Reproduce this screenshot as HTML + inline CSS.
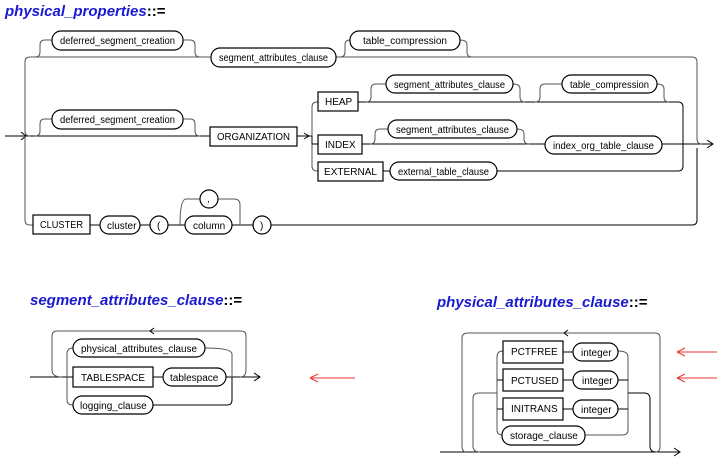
<!DOCTYPE html>
<html><head><meta charset="utf-8"><style>
html,body{margin:0;padding:0;background:#fff;}
svg{display:block;}
text{font-family:"Liberation Sans",sans-serif;font-size:10px;fill:#000;}
.t{font-family:"Liberation Sans",sans-serif;font-size:15px;font-weight:bold;font-style:italic;fill:#1a1ad0;}
.l{fill:none;stroke:#000;stroke-width:1;}
.g{fill:none;stroke:#555;stroke-width:1;}
.b{fill:#fff;stroke:#000;stroke-width:1.2;}
.r{fill:none;stroke:#e33;stroke-width:1;}
</style></head><body>
<svg width="719" height="460" viewBox="0 0 719 460">
<text class="t" x="5" y="16">physical_properties<tspan style="font-style:normal;fill:#000">::=</tspan></text>

<!-- main structure -->
<path class="l" d="M5 136 H210 M297 136 H312 M683 144 H713"/>
<path class="l" d="M707 140 L713 144 L707 148 M21 132 L26 136 L21 140 M304 133 L309 136 L304 139"/>
<path class="g" d="M30 136 Q25 136 25 131 V62 Q25 57 30 57 H692 Q697 57 697 62 V139 Q697 144 702 144"/>
<path class="g" d="M25 136 V220 Q25 225 30 225 H33"/>
<path class="l" d="M90 225 H100 M140 225 H150 M168 225 H185 M232 225 H253 M271 225 H692 Q697 225 697 220 V148"/>

<!-- row1 bypasses -->
<path class="g" d="M35 57 Q40 57 40 52 V45 Q40 40 45 40 H52 M183 40 H190 Q195 40 195 45 V52 Q195 57 200 57"/>
<path class="g" d="M340 57 Q345 57 345 52 V45 Q345 40 350 40 M460 40 Q467 40 467 45 V52 Q467 57 472 57"/>
<rect class="b" x="52" y="31" width="131" height="19" rx="9"/><text x="60" y="44" textLength="115" lengthAdjust="spacingAndGlyphs">deferred_segment_creation</text>
<rect class="b" x="211" y="48" width="125" height="19" rx="9"/><text x="219" y="61" textLength="109" lengthAdjust="spacingAndGlyphs">segment_attributes_clause</text>
<rect class="b" x="350" y="31" width="110" height="19" rx="9"/><text x="363" y="44" textLength="84" lengthAdjust="spacingAndGlyphs">table_compression</text>

<!-- row2 -->
<path class="g" d="M35 136 Q40 136 40 131 V124 Q40 119 45 119 H52 M183 119 H190 Q195 119 195 124 V131 Q195 136 200 136"/>
<rect class="b" x="52" y="110" width="131" height="19" rx="9"/><text x="60" y="123" textLength="115" lengthAdjust="spacingAndGlyphs">deferred_segment_creation</text>
<rect class="b" x="210" y="127" width="87" height="19"/><text x="217" y="140" textLength="73" lengthAdjust="spacingAndGlyphs">ORGANIZATION</text>
<path class="g" d="M318 102 H317 Q312 102 312 107 V166 Q312 171 317 171 H318"/>
<path class="l" d="M312 136 V144 H318"/>
<rect class="b" x="318" y="92" width="40" height="19"/><text x="325" y="105">HEAP</text>
<rect class="b" x="318" y="135" width="44" height="19"/><text x="325" y="148">INDEX</text>
<rect class="b" x="318" y="162" width="65" height="19"/><text x="324" y="175" textLength="53" lengthAdjust="spacingAndGlyphs">EXTERNAL</text>
<path class="l" d="M358 102 H678 Q683 102 683 107 V166 Q683 171 678 171 H497"/>
<path class="l" d="M362 144 H545 M662 144 H683"/>
<path class="l" d="M383 171 H390"/>
<path class="g" d="M366 102 Q371 102 371 97 V89 Q371 84 376 84 H386 M513 84 Q520 84 520 89 V97 Q520 102 525 102"/>
<path class="g" d="M535 102 Q540 102 540 97 V89 Q540 84 545 84 H562 M657 84 Q664 84 664 89 V97 Q664 102 669 102"/>
<rect class="b" x="386" y="75" width="127" height="18" rx="9"/><text x="394" y="88" textLength="111" lengthAdjust="spacingAndGlyphs">segment_attributes_clause</text>
<rect class="b" x="562" y="75" width="95" height="18" rx="9"/><text x="570" y="88" textLength="79" lengthAdjust="spacingAndGlyphs">table_compression</text>
<path class="g" d="M370 144 Q375 144 375 139 V134 Q375 129 380 129 H388 M517 129 Q524 129 524 134 V139 Q524 144 529 144"/>
<rect class="b" x="388" y="120" width="129" height="18" rx="9"/><text x="396" y="133" textLength="113" lengthAdjust="spacingAndGlyphs">segment_attributes_clause</text>
<rect class="b" x="545" y="136" width="117" height="18" rx="9"/><text x="553" y="149" textLength="101" lengthAdjust="spacingAndGlyphs">index_org_table_clause</text>
<rect class="b" x="390" y="162" width="107" height="18" rx="9"/><text x="398" y="175" textLength="91" lengthAdjust="spacingAndGlyphs">external_table_clause</text>

<!-- row3 -->
<rect class="b" x="33" y="215" width="57" height="19"/><text x="40" y="228" textLength="43" lengthAdjust="spacingAndGlyphs">CLUSTER</text>
<rect class="b" x="100" y="216" width="40" height="18" rx="9"/><text x="107" y="229">cluster</text>
<rect class="b" x="150" y="216" width="18" height="18" rx="9"/><text x="157" y="229">(</text>
<path class="g" d="M180 225 Q180 199 186 199 H200 M218 199 H234 Q240 199 240 205 V225"/>
<rect class="b" x="200" y="190" width="18" height="18" rx="9"/><text x="207" y="202">,</text>
<rect class="b" x="185" y="216" width="47" height="18" rx="9"/><text x="193" y="229">column</text>
<rect class="b" x="253" y="216" width="18" height="18" rx="9"/><text x="260" y="229">)</text>

<!-- segment_attributes_clause -->
<text class="t" x="30" y="305">segment_attributes_clause<tspan style="font-style:normal;fill:#000">::=</tspan></text>
<path class="l" d="M30 377 H260 M254 373 L260 377 L254 381"/>
<path class="g" d="M62 377 Q52 377 52 370 V336 Q52 331 57 331 H241 Q246 331 246 336 V370 Q246 377 240 377"/>
<path class="l" d="M154 328 L150 331 L154 334"/>
<path class="g" d="M73 348 Q67 348 67 354 V400 Q67 405 73 405 M205 348 Q232 348 232 354 V377"/>
<path class="l" d="M153 405 H227 Q232 405 232 400 V377"/>
<rect class="b" x="73" y="339" width="132" height="18" rx="9"/><text x="81" y="352" textLength="116" lengthAdjust="spacingAndGlyphs">physical_attributes_clause</text>
<rect class="b" x="73" y="367" width="80" height="20"/><text x="81" y="381" textLength="64" lengthAdjust="spacingAndGlyphs">TABLESPACE</text>
<rect class="b" x="163" y="368" width="63" height="18" rx="9"/><text x="170" y="381">tablespace</text>
<rect class="b" x="73" y="396" width="80" height="18" rx="9"/><text x="80" y="409">logging_clause</text>
<path class="r" d="M310 378 H355 M310 378 L318 374 M310 378 L318 382"/>

<!-- physical_attributes_clause -->
<text class="t" x="437" y="307">physical_attributes_clause<tspan style="font-style:normal;fill:#000">::=</tspan></text>
<path class="l" d="M440 452 H680 M674 448 L680 452 L674 456"/>
<path class="g" d="M466 452 Q462 452 462 446 V338 Q462 333 468 333 H655 Q660 333 660 338 V446 Q660 452 656 452"/>
<path class="l" d="M568 330 L564 333 L568 336"/>
<path class="g" d="M480 452 Q473 452 473 446 V398 Q473 393 479 393 H497"/>
<path class="g" d="M503 351 Q497 351 497 357 V430 Q497 435 503 435 M618 351 Q628 351 628 357 V430 Q628 435 622 435 H585"/>
<path class="l" d="M497 380 H503 M497 409 H503 M618 380 H628 M618 409 H628 M628 393 H644 Q650 393 650 399 V446 Q650 452 656 452"/>
<rect class="b" x="503" y="341" width="60" height="22"/><text x="511" y="355">PCTFREE</text>
<rect class="b" x="573" y="343" width="45" height="18" rx="9"/><text x="581" y="356">integer</text>
<rect class="b" x="503" y="369" width="60" height="22"/><text x="511" y="384">PCTUSED</text>
<rect class="b" x="573" y="371" width="45" height="18" rx="9"/><text x="582" y="384">integer</text>
<rect class="b" x="503" y="398" width="60" height="22"/><text x="511" y="412">INITRANS</text>
<rect class="b" x="573" y="400" width="45" height="18" rx="9"/><text x="581" y="413">integer</text>
<rect class="b" x="502" y="426" width="83" height="19" rx="9"/><text x="510" y="439">storage_clause</text>
<path class="l" d="M563 352 H573 M563 380 H573 M563 409 H573"/>
<path class="r" d="M677 352 H717 M677 352 L685 348 M677 352 L685 356 M677 378 H717 M677 378 L685 374 M677 378 L685 382"/>
</svg>
</body></html>
